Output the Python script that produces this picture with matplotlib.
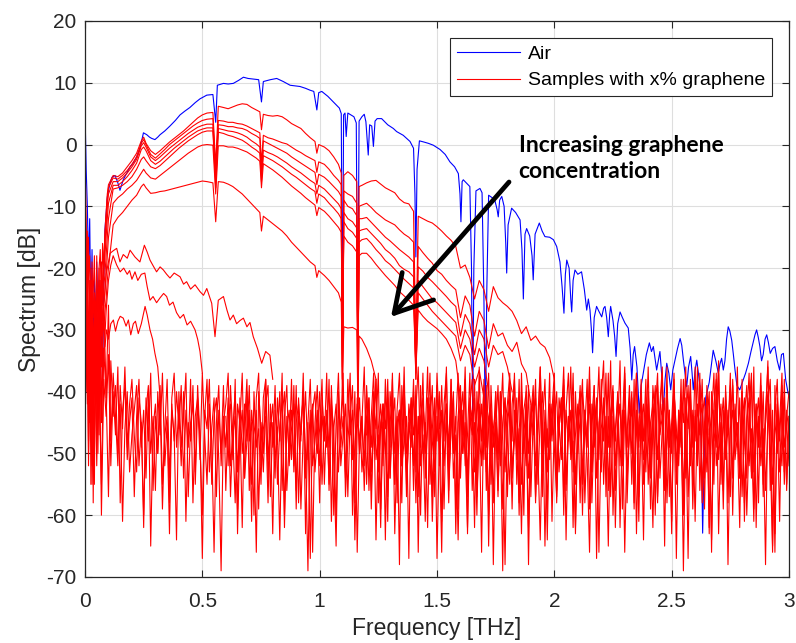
import numpy as np
import matplotlib.pyplot as plt

# ---------------------------------------------------------------------------
# Values (frequency in THz, spectrum in dB)
# ---------------------------------------------------------------------------

# Air reference spectrum: (frequency, dB)
AIR = [
    (0.000, 5.6), (0.005, -4), (0.010, -10), (0.015, -20), (0.020, -12), (0.025, -28),
    (0.030, -17), (0.035, -33), (0.040, -22), (0.045, -30), (0.050, -19), (0.055, -27),
    (0.060, -22), (0.065, -36), (0.070, -28), (0.075, -39), (0.080, -22), (0.085, -13.8),
    (0.095, -8.5), (0.105, -6.5), (0.115, -5.3), (0.128, -5.0), (0.140, -6.2), (0.149, -7.4),
    (0.163, -5.7), (0.178, -4.6), (0.192, -3.6), (0.205, -3.0), (0.220, -2.0), (0.235, -0.5),
    (0.249, 1.9), (0.263, 1.6), (0.275, 1.2), (0.284, 1.0), (0.298, 0.8), (0.310, 1.2),
    (0.320, 1.6), (0.340, 2.2), (0.362, 3.0), (0.385, 3.9), (0.405, 4.8), (0.425, 5.4),
    (0.447, 6.0), (0.470, 6.8), (0.490, 7.4), (0.519, 8.0), (0.545, 8.1), (0.557, 3.6),
    (0.564, 9.6), (0.590, 9.9), (0.610, 9.8), (0.632, 9.9), (0.655, 10.4), (0.675, 10.9),
    (0.695, 10.7), (0.717, 10.6), (0.740, 10.5), (0.752, 6.9), (0.760, 10.2), (0.790, 10.5),
    (0.817, 10.7), (0.845, 10.2), (0.874, 9.6), (0.895, 9.5), (0.916, 9.4), (0.940, 9.1),
    (0.959, 8.8), (0.975, 8.6), (0.988, 5.6), (0.996, 8.4), (1.009, 8.6), (1.035, 7.8),
    (1.058, 6.9), (1.084, 5.9), (1.092, 5.0), (1.097, -30), (1.102, 4.8), (1.108, 5.1),
    (1.113, 1.3), (1.120, 5.1), (1.146, 4.5), (1.156, 3.5), (1.162, -32), (1.168, 3.8),
    (1.180, 4.5), (1.190, 4.9), (1.197, 3.7), (1.207, -1.7), (1.213, 3.2), (1.222, 3.0),
    (1.229, -0.3), (1.236, 3.8), (1.245, 4.2), (1.264, 4.2), (1.290, 3.2), (1.314, 2.6),
    (1.328, 2.1), (1.356, 1.5), (1.385, 0.5), (1.400, -0.6), (1.406, -8), (1.410, -18.2),
    (1.415, -4), (1.425, 0.6), (1.445, 0.4), (1.463, 0.2), (1.484, -0.1), (1.513, -0.8),
    (1.535, -1.6), (1.555, -2.8), (1.575, -3.6), (1.591, -4.7), (1.598, -8), (1.602, -12.5),
    (1.607, -6.0), (1.612, -5.7), (1.625, -6.2), (1.640, -6.8), (1.647, -20), (1.652, -45),
    (1.657, -20), (1.666, -7.5), (1.683, -7.1), (1.692, -7.8), (1.700, -25), (1.706, -48),
    (1.712, -24), (1.720, -8.2), (1.735, -8.6), (1.747, -9.1), (1.756, -10.5), (1.761, -11.7),
    (1.767, -9.0), (1.776, -8.4), (1.786, -10.0), (1.793, -16), (1.797, -20.8), (1.803, -13.0),
    (1.818, -10.3), (1.835, -11.0), (1.854, -12.2), (1.862, -17), (1.868, -25), (1.875, -14.5),
    (1.882, -13.6), (1.895, -14.8), (1.905, -18), (1.910, -21.9), (1.918, -14.5), (1.936, -12.7),
    (1.948, -14.0), (1.960, -14.9), (1.980, -15.0), (1.996, -15.4), (2.010, -16.5), (2.024, -19.0),
    (2.033, -23), (2.041, -27.3), (2.047, -21), (2.053, -18.7), (2.063, -20), (2.070, -25),
    (2.074, -27.1), (2.080, -22), (2.088, -20.3), (2.100, -21.0), (2.116, -20.6), (2.128, -23.5),
    (2.138, -26.8), (2.145, -25.0), (2.152, -26.8), (2.158, -30), (2.163, -33.7), (2.170, -28),
    (2.180, -26.2), (2.190, -27.0), (2.202, -27.9), (2.210, -26.5), (2.216, -26.2), (2.223, -28),
    (2.230, -31.1), (2.236, -27.5), (2.240, -26.2), (2.250, -28.5), (2.257, -31), (2.263, -34.3),
    (2.270, -29), (2.280, -27.1), (2.290, -28.0), (2.301, -28.9), (2.315, -29.7), (2.323, -33),
    (2.330, -38.1), (2.336, -34), (2.342, -32.7), (2.352, -36), (2.362, -43.5), (2.370, -39),
    (2.379, -37.0), (2.392, -34), (2.405, -32.1), (2.414, -33.5), (2.422, -32.7), (2.436, -36.5),
    (2.450, -33.5), (2.457, -37), (2.464, -43.5), (2.472, -38), (2.479, -35.4), (2.488, -37),
    (2.496, -39.7), (2.505, -36.5), (2.514, -34.9), (2.525, -33.0), (2.536, -31.4), (2.543, -32.5),
    (2.550, -34.9), (2.557, -37), (2.564, -39.2), (2.572, -36), (2.581, -34.3), (2.587, -37),
    (2.592, -39.7), (2.600, -36.5), (2.607, -34.9), (2.614, -37), (2.621, -39.2), (2.627, -50),
    (2.632, -62.9), (2.638, -52), (2.645, -41), (2.660, -38.5), (2.677, -33.3), (2.688, -35),
    (2.699, -37.0), (2.706, -35.5), (2.713, -34.6), (2.720, -36.5), (2.727, -35.0), (2.734, -31.5),
    (2.741, -29.5), (2.748, -30.2), (2.756, -31.7), (2.763, -34), (2.770, -36.5), (2.778, -39.0),
    (2.790, -39.7), (2.805, -38.1), (2.815, -37), (2.827, -35.4), (2.838, -33.5), (2.848, -31.9),
    (2.855, -30.8), (2.862, -30.0), (2.869, -31.2), (2.876, -32.7), (2.883, -35), (2.890, -34),
    (2.898, -31.5), (2.905, -30.8), (2.912, -32), (2.920, -33.8), (2.930, -33.0), (2.940, -32.7),
    (2.950, -35), (2.960, -36.5), (2.968, -34), (2.976, -33.8), (2.986, -38.1), (2.995, -40.0),
    (3.000, -40.8),
]

# common frequency grid of the seven upper sample curves (absorption lines included)
F_UP = [
    0.000, 0.005, 0.010, 0.015, 0.020, 0.025, 0.030, 0.035, 0.040, 0.045,
    0.050, 0.055, 0.060, 0.065, 0.070, 0.075, 0.080, 0.085, 0.090, 0.095, 0.100,
    0.12, 0.14, 0.16, 0.18, 0.20, 0.22, 0.24, 0.25, 0.26, 0.28, 0.30, 0.32,
    0.34, 0.36, 0.38, 0.40, 0.42, 0.44, 0.46, 0.48, 0.50, 0.52, 0.545,
    0.557, 0.568,
    0.59, 0.61, 0.63, 0.65, 0.67, 0.69, 0.71, 0.73, 0.745,
    0.752, 0.76,
    0.78, 0.80, 0.82, 0.84, 0.86, 0.88, 0.90, 0.92, 0.94, 0.96, 0.98,
    0.988, 0.996,
    1.02, 1.04, 1.06, 1.08, 1.092,
    1.097, 1.103,
    1.12, 1.14, 1.158,
    1.163, 1.168,
    1.18, 1.20, 1.22, 1.24, 1.26, 1.28, 1.30, 1.32, 1.34, 1.36, 1.38, 1.40,
    1.41, 1.42,
    1.44, 1.46, 1.48, 1.50, 1.52, 1.54, 1.56, 1.58, 1.60, 1.62, 1.64, 1.66, 1.68, 1.70,
    1.72, 1.74, 1.76, 1.78, 1.80, 1.82, 1.84, 1.86, 1.88, 1.90, 1.92, 1.94, 1.96, 1.98, 2.00,
]

R1 = [
    -2, -12, -25, -15, -32, -20, -38, -24, -18, -30, -22, -27, -20, -17, -26, -16, -21, -14, -11, -8, -6.5,
    -5.0, -5.2, -4.6, -3.6, -2.6, -1.4, 0.6, 1.2, 0.2, -1.0, -1.6, -1.0, -0.3, 0.4, 1.0, 1.6, 2.2, 2.9, 3.6, 4.3, 4.8, 5.1, 5.2,
    -3.5, 6.2,
    6.0, 5.8, 6.1, 6.4, 6.6, 6.5, 6.0, 5.6, 5.3,
    2.4, 4.9,
    4.7, 4.6, 4.7, 4.5, 4.0, 3.4, 3.0, 2.6, 1.8, 1.1, 0.5,
    -1.4, 0.0,
    -0.4, -1.0, -2.0, -3.2, -4.6,
    -42, -5.0,
    -4.4, -5.0, -6.0,
    -45, -6.8,
    -6.6, -6.2, -5.9, -5.8, -6.4, -7.0, -7.4, -7.8, -8.8, -9.4, -9.6, -10.8,
    -33, -11.6,
    -12.0, -12.4, -12.7, -13.3, -14.0, -14.8, -15.5, -16.5, -20, -19.5, -21.5, -25, -22.0, -23.5,
    -27, -23.0, -24.8, -25.6, -26.2, -27.0, -28.5, -30.6, -29.5, -31.7, -31.0, -32.2, -32.8, -34.5, -38,
]
R2 = [
    -8, -20, -14, -35, -22, -45, -19, -28, -24, -36, -18, -30, -23, -35, -19, -26, -18, -15, -12, -9, -7,
    -5.4, -5.6, -5.0, -4.2, -3.2, -2.0, 0.2, 0.8, 0.0, -1.6, -2.2, -1.5, -0.8, 0.0, 0.6, 1.2, 1.8, 2.4, 3.0, 3.5, 3.9, 4.1, 4.2,
    -4.0, 3.9,
    3.8, 3.6, 3.6, 3.4, 3.3, 3.0, 2.6, 2.2, 1.9,
    -3.0, 1.5,
    1.1, 0.9, 0.6, 0.3, 0.1, -0.4, -0.9, -1.3, -1.8, -2.2, -2.6,
    -4.5, -2.8,
    -3.2, -4.0, -5.0, -5.8, -6.5,
    -40, -7.5,
    -8.0, -8.4, -9.5,
    -44, -10.0,
    -9.8, -9.5, -10.2, -11.0, -11.6, -12.2, -12.6, -13.0, -13.8, -14.5, -15.0, -15.8,
    -35, -16.5,
    -17.5, -18.4, -19.2, -20.4, -21.0, -22.0, -22.8, -23.5, -28, -24.5, -26.0, -31, -27.0, -28.5,
    -33, -29.0, -31.0, -30.5, -32.5, -33.5, -32.0, -35.5, -37, -42, None, None, None, None, None,
]
R3 = [
    -12, -25, -18, -40, -26, -55, -22, -33, -28, -42, -24, -36, -20, -30, -27, -22, -19, -16, -13, -10, -8,
    -6.0, -6.0, -5.4, -4.6, -3.6, -2.4, -0.2, 0.3, -0.4, -2.0, -2.6, -2.0, -1.3, -0.6, 0.0, 0.6, 1.2, 1.8, 2.3, 2.8, 3.1, 3.3, 3.3,
    -5.0, 3.2,
    3.1, 2.9, 2.9, 2.7, 2.6, 2.3, 1.8, 1.4, 1.0,
    -4.5, 0.6,
    0.2, -0.2, -0.6, -1.0, -1.4, -2.0, -2.5, -3.0, -3.5, -4.0, -4.5,
    -6.5, -4.8,
    -5.3, -6.0, -6.8, -7.6, -8.4,
    -38, -9.0,
    -10.0, -10.4, -11.5,
    -40, -12.0,
    -12.0, -11.8, -12.6, -13.4, -14.2, -15.0, -15.6, -16.3, -17.0, -17.6, -18.2, -19.0,
    -37, -19.8,
    -20.5, -21.5, -22.2, -23.0, -23.8, -24.6, -25.5, -26.2, -31, -27.5, -29.0, -34, -30.0, -31.5,
    -36, -32.5, -34.0, -33.5, -36.0, -40, None, None, None, None, None, None, None, None, None,
]
R4 = [
    -15, -28, -21, -44, -30, -38, -25, -50, -31, -27, -40, -26, -34, -22, -29, -24, -20, -18, -15, -12, -9.5,
    -6.6, -6.6, -6.0, -5.2, -4.2, -3.0, -0.8, -0.4, -1.0, -2.6, -3.2, -2.7, -2.0, -1.3, -0.6, 0.0, 0.6, 1.2, 1.7, 2.2, 2.5, 2.7, 2.7,
    -6.0, 2.6,
    2.4, 2.2, 2.1, 1.9, 1.6, 1.2, 0.6, 0.1, -0.4,
    -5.0, -0.9,
    -1.3, -1.6, -2.0, -2.5, -3.0, -3.6, -4.1, -4.6, -5.2, -5.8, -6.3,
    -8.0, -6.6,
    -7.2, -8.0, -8.8, -9.6, -10.4,
    -36, -11.0,
    -12.0, -12.5, -13.5,
    -38, -14.0,
    -13.8, -13.6, -14.4, -15.2, -16.0, -17.0, -17.6, -18.4, -19.6, -20.2, -20.6, -21.4,
    -38, -22.0,
    -23.0, -24.0, -25.0, -25.6, -26.4, -27.2, -28.0, -28.8, -33, -30.0, -31.5, -36, -33.0, -35.0,
    -40, None, None, None, None, None, None, None, None, None, None, None, None, None, None,
]
R5 = [
    -18, -32, -24, -48, -35, -28, -52, -30, -38, -26, -44, -29, -36, -25, -31, -27, -23, -21, -18, -15, -12,
    -7.2, -7.0, -6.6, -6.0, -5.2, -4.0, -2.4, -2.0, -2.6, -3.6, -3.9, -3.4, -2.7, -2.0, -1.3, -0.6, 0.0, 0.6, 1.1, 1.6, 2.0, 2.2, 2.2,
    -7.0, 2.0,
    1.8, 1.5, 1.3, 1.0, 0.7, 0.2, -0.4, -0.9, -1.4,
    -6.0, -1.8,
    -2.2, -2.6, -3.1, -3.6, -4.2, -4.8, -5.3, -5.9, -6.5, -7.1, -7.6,
    -9.5, -8.0,
    -8.6, -9.5, -10.3, -11.2, -12.0,
    -34, -12.5,
    -13.6, -14.2, -15.2,
    -36, -15.8,
    -15.4, -15.2, -16.0, -17.0, -17.8, -18.8, -19.4, -20.2, -21.0, -21.8, -22.5, -23.2,
    -38, -24.0,
    -25.0, -26.0, -27.0, -27.8, -28.6, -29.4, -30.2, -31.0, -35, -32.5, -34.0, -39, -36.5, -41,
    None, None, None, None, None, None, None, None, None, None, None, None, None, None, None,
]
R6 = [
    -20, -35, -27, -50, -38, -31, -45, -33, -55, -29, -40, -33, -47, -28, -36, -30, -26, -24, -21, -18, -15,
    -9.5, -8.6, -8.0, -7.2, -6.6, -5.8, -4.6, -4.0, -4.6, -5.4, -5.6, -5.0, -4.4, -3.8, -3.2, -2.6, -2.0, -1.4, -0.9, -0.4, -0.1, 0.0, -0.1,
    -8.0, -0.2,
    -0.2, -0.4, -0.4, -0.6, -0.9, -1.2, -1.7, -2.2, -2.7,
    -7.0, -3.1,
    -3.6, -4.1, -4.7, -5.3, -6.0, -6.7, -7.3, -7.9, -8.6, -9.2, -9.8,
    -11.5, -10.2,
    -10.8, -11.6, -12.5, -13.4, -14.2,
    -33, -14.8,
    -15.8, -16.4, -17.4,
    -35, -18.0,
    -17.6, -17.6, -18.4, -19.4, -20.3, -21.2, -22.0, -22.8, -23.8, -24.5, -25.2, -26.0,
    -36, -26.8,
    -27.8, -28.6, -29.2, -29.8, -30.6, -31.5, -33.0, -35, -41, None, None, None, None, None,
    None, None, None, None, None, None, None, None, None, None, None, None, None, None, None,
]
R7 = [
    -22, -40, -30, -52, -36, -44, -28, -58, -35, -42, -31, -50, -37, -33, -45, -29, -30, -27, -25, -22, -20,
    -13.0, -11.8, -11.0, -10.0, -9.0, -8.2, -6.8, -6.4, -7.0, -7.9, -7.8, -7.6, -7.5, -7.3, -7.1, -6.9, -6.7, -6.5, -6.3, -6.1, -5.9, -6.0, -6.2,
    -12.5, -6.0,
    -6.1, -6.4, -6.8, -7.4, -8.0, -8.8, -9.6, -10.4, -11.0,
    -14.0, -11.6,
    -12.2, -12.8, -13.4, -14.0, -14.8, -15.8, -16.6, -17.4, -18.2, -19.0, -19.6,
    -21.5, -20.4,
    -21.2, -22.0, -23.0, -24.0, -25.5,
    -38, -29.5,
    -29.7, -29.6, -30.0,
    -42, -31.0,
    -31.5, -33.0, -35.0, -38, None, None, None, None, None, None, None, None,
    None, None,
    None, None, None, None, None, None, None, None, None, None, None, None, None, None,
    None, None, None, None, None, None, None, None, None, None, None, None, None, None, None,
]
SAMPLES = [R1, R2, R3, R4, R5, R6, R7]

# the two weak sample curves at the low-frequency end
L1_F = [0.06, 0.07, 0.08, 0.09, 0.10, 0.107, 0.12, 0.135, 0.149, 0.163, 0.18, 0.192, 0.213, 0.234,
        0.253, 0.265, 0.277, 0.29, 0.305, 0.32, 0.334, 0.348, 0.362, 0.38, 0.405, 0.42, 0.433, 0.45,
        0.469, 0.49, 0.505, 0.519, 0.54, 0.554, 0.568, 0.59, 0.605, 0.618, 0.632, 0.646, 0.66, 0.675,
        0.69, 0.703, 0.717, 0.735, 0.753, 0.77, 0.788, 0.80]
L1_DB = [-40, -30, -26, -21, -19, -17.6, -17.2, -16.8, -19.0, -17.8, -18.4, -17.1, -18.2, -19.0,
         -16.3, -17.4, -18.7, -19.6, -20.6, -19.8, -20.3, -21.0, -21.6, -20.8, -21.4, -22.6, -22.2, -23.4,
         -22.7, -23.8, -24.4, -23.3, -25.7, -31.1, -25.2, -24.6, -26.8, -28.4, -27.6, -29.0, -28.5, -28.1,
         -29.5, -28.8, -31.1, -33.0, -35.4, -33.5, -34.1, -38]
L1B_F = [0.08, 0.09, 0.10, 0.11, 0.12, 0.135, 0.15, 0.165, 0.18, 0.19, 0.2, 0.213, 0.225, 0.24,
         0.255, 0.265, 0.277, 0.29, 0.305, 0.32, 0.335, 0.348, 0.36, 0.375, 0.39, 0.405, 0.42, 0.435,
         0.45, 0.469, 0.48, 0.49, 0.50]
L1B_DB = [-35, -27, -22, -19.5, -18.0, -19.5, -20.6, -20.0, -21.0, -20.4, -21.8, -20.6, -22.0, -21.0,
          -20.8, -23.0, -25.2, -24.6, -25.6, -24.8, -24.1, -24.6, -26.0, -25.5, -27.2, -28.1, -27.5, -29.2,
          -28.6, -30.0, -31.5, -33.5, -37]
L2_F = [0.07, 0.08, 0.085, 0.092, 0.10, 0.11, 0.121, 0.13, 0.14, 0.15, 0.163, 0.175, 0.185, 0.195,
        0.206, 0.215, 0.227, 0.24, 0.256, 0.265, 0.277, 0.288, 0.298, 0.31, 0.32]
L2_DB = [-42, -33, -32.7, -30.0, -31.5, -29.0, -28.4, -30.2, -28.6, -27.8, -28.1, -29.4, -28.4, -30.8,
         -29.0, -28.6, -30.6, -29.0, -26.2, -27.6, -30.0, -31.5, -33.8, -36, -41]

# noise-floor traces, one value every 0.01 THz from the given start frequency
NOISE_STEP = 0.01
N1_START = 0.0
N1 = [
    -12, -30, -45, -22, -50, -28, -38, -55, -33, -41, -26, -48, -37, -44, -52, -39, -46, -36, -49, -42,
    -38, -47, -53, -41, -45, -60, -43, -39, -50, -44, -56, -40, -47, -37, -52, -45, -63, -42, -48, -40,
    -46, -39, -54, -43, -49, -38, -58, -44, -41, -51, -37, -47, -55, -42, -48, -66, -45, -39, -52, -44,
    -49, -41, -57, -46, -40, -53, -44, -62, -42, -48, -39, -55, -47, -43, -59, -45, -50, -38, -54, -46,
    -42, -51, -47, -64, -44, -40, -56, -48, -43, -52, -39, -58, -45, -41, -50, -69, -46, -42, -53, -47,
    -40, -55, -44, -49, -38, -61, -46, -42, -53, -45, -37, -57, -48, -43, -51, -40, -66, -47, -44, -52,
    -39, -48, -56, -42, -46, -37, -59, -45, -50, -41, -54, -38, -63, -47, -43, -52, -40, -57, -45, -49,
    -38, -53, -44, -60, -42, -47, -36, -55, -46, -41, -67, -48, -39, -52, -44, -58, -40, -50, -45, -37,
    -54, -43, -49, -62, -41, -46, -38, -57, -47, -42, -51, -39, -65, -44, -48, -40, -56, -45, -37, -53,
    -46, -41, -59, -43, -50, -38, -55, -47, -42, -68, -44, -39, -52, -46, -40, -57, -43, -49, -37, -61,
    -45, -40, -53, -47, -38, -56, -44, -50, -41, -63, -46, -39, -54, -43, -48, -36, -58, -45, -42, -51,
    -38, -55, -44, -49, -35, -60, -46, -41, -52, -43, -66, -47, -39, -50, -44, -37, -57, -45, -42, -53,
    -40, -48, -62, -43, -37, -54, -46, -41, -58, -44, -50, -38, -55, -47, -42, -69, -45, -39, -52, -43,
    -48, -36, -56, -44, -41, -53, -46, -64, -42, -38, -51, -45, -59, -40, -47, -37, -54, -43, -49, -41,
    -57, -44, -39, -52, -46, -61, -42, -48, -37, -55, -45, -40, -50, -66, -43, -38, -53, -47, -41, -56,
    -44,
]
N2_START = 0.0
N2 = [
    -20, -42, -25, -55, -35, -47, -30, -60, -38, -44, -34, -52, -40, -47, -36, -58, -43, -39, -51, -45,
    -41, -57, -44, -38, -49, -43, -54, -40, -65, -46, -42, -50, -39, -55, -47, -44, -58, -41, -37, -49,
    -43, -52, -40, -61, -45, -48, -39, -55, -42, -47, -67, -44, -38, -53, -46, -41, -57, -43, -50, -39,
    -56, -44, -42, -51, -38, -63, -47, -43, -54, -40, -48, -45, -60, -41, -37, -52, -46, -44, -58, -42,
    -49, -39, -55, -46, -41, -62, -44, -50, -38, -53, -45, -42, -59, -47, -40, -51, -43, -66, -45, -39,
    -52, -44, -48, -37, -56, -42, -46, -61, -40, -49, -44, -54, -38, -47, -43, -58, -41, -50, -45, -36,
    -55, -43, -49, -40, -64, -46, -42, -52, -38, -57, -45, -41, -50, -44, -68, -39, -47, -53, -42, -46,
    -40, -58, -44, -49, -37, -54, -45, -42, -61, -47, -39, -52, -43, -48, -36, -56, -46, -41, -63, -44,
    -39, -50, -45, -57, -42, -38, -53, -47, -44, -66, -41, -49, -37, -55, -46, -43, -51, -40, -59, -45,
    -42, -37, -54, -48, -43, -60, -40, -46, -52, -39, -57, -44, -41, -50, -64, -45, -38, -53, -47, -42,
    -49, -57, -41, -45, -36, -55, -47, -43, -62, -40, -50, -44, -38, -58, -46, -42, -53, -39, -67, -45,
    -41, -48, -37, -56, -44, -40, -52, -46, -35, -59, -43, -49, -41, -55, -38, -63, -45, -42, -51, -47,
    -36, -54, -44, -40, -57, -46, -42, -65, -39, -49, -45, -37, -53, -43, -48, -60, -41, -46, -38, -55,
    -43, -50, -39, -58, -45, -41, -62, -44, -37, -52, -47, -42, -56, -39, -68, -46, -43, -50, -36, -54,
    -45, -41, -60, -47, -38, -53, -44, -49, -40, -57, -43, -36, -51, -46, -63, -42, -48, -39, -55, -44,
    -40,
]
N3_START = 0.0
N3 = [
    -8, -25, -18, -38, -27, -52, -32, -45, -26, -40, -57, -35, -44, -39, -50, -42, -61, -46, -40, -53,
    -47, -43, -39, -52, -45, -62, -41, -48, -37, -56, -44, -50, -42, -59, -46, -38, -54, -43, -47, -64,
    -40, -49, -44, -37, -57, -45, -42, -53, -39, -48, -60, -43, -46, -38, -55, -44, -41, -51, -69, -45,
    -42, -37, -52, -47, -44, -59, -41, -50, -45, -38, -56, -43, -48, -66, -40, -46, -53, -42, -39, -57,
    -45, -54, -41, -48, -37, -60, -46, -43, -51, -39, -56, -44, -47, -40, -63, -45, -38, -52, -48, -43,
    -58, -41, -47, -44, -55, -39, -51, -65, -43, -46, -40, -53, -45, -37, -60, -48, -42, -50, -44, -56,
    -44, -41, -53, -47, -38, -58, -45, -42, -49, -61, -40, -46, -55, -43, -37, -52, -48, -44, -67, -41,
    -47, -43, -57, -39, -50, -45, -62, -41, -48, -53, -37, -46, -44, -59, -42, -49, -38, -54, -47, -64,
    -44, -40, -52, -47, -37, -56, -45, -60, -42, -48, -39, -53, -46, -43, -58, -40, -50, -45, -69, -41,
    -48, -55, -42, -38, -51, -46, -63, -43, -40, -54, -47, -41, -57, -44, -36, -50, -45, -59, -42, -47,
    -40, -58, -45, -51, -39, -64, -44, -48, -37, -55, -46, -42, -60, -43, -49, -38, -53, -47, -41, -66,
    -46, -42, -50, -37, -57, -44, -48, -40, -62, -45, -36, -53, -47, -41, -58, -43, -49, -38, -55, -45,
    -42, -59, -46, -39, -51, -44, -37, -56, -48, -43, -63, -40, -47, -52, -41, -45, -36, -57, -49, -44,
    -61, -42, -47, -38, -54, -45, -40, -66, -43, -49, -37, -53, -46, -42, -58, -44, -39, -51, -47, -62,
    -40, -48, -54, -43, -37, -59, -45, -41, -52, -46, -68, -42, -38, -55, -47, -43, -61, -40, -49, -45,
    -52,
]
N4_START = 0.6
N4 = [
    -44, -52, -39, -47, -58, -42, -45, -37, -54, -48, -43, -61, -40, -49, -46, -55, -41, -38, -51, -45,
    -63, -43, -47, -40, -56, -44, -39, -52, -46, -42, -59, -41, -48, -37, -54, -45, -67, -43, -40, -50,
    -46, -38, -55, -43, -49, -41, -60, -45, -37, -52, -47, -42, -57, -44, -39, -64, -46, -41, -53, -48,
    -40, -56, -44, -37, -51, -47, -62, -42, -46, -38, -54, -45, -41, -58, -43, -49, -36, -55, -47, -42,
    -52, -39, -66, -44, -41, -50, -46, -37, -57, -43, -48, -40, -61, -45, -42, -53, -38, -49, -44, -59,
    -41, -47, -36, -54, -45, -43, -62, -40, -48, -51, -38, -56, -44, -42, -68, -46, -39, -52, -45, -41,
    -57, -43, -48, -37, -55, -46, -42, -60, -39, -50, -44, -41, -58, -47, -36, -53, -45, -64, -42, -48,
    -39, -54, -46, -41, -57, -43, -37, -51, -48, -62, -44, -40, -55, -46, -38, -59, -42, -49, -45, -36,
    -53, -41, -47, -65, -43, -39, -56, -45, -42, -50, -37, -58, -46, -40, -54, -44, -61, -41, -48, -38,
    -55, -45, -42, -60, -39, -47, -44, -52, -36, -57, -46, -41, -67, -43, -49, -38, -54, -45, -40, -59,
    -44, -50, -37, -56, -47, -42, -63, -40, -48, -45, -35, -55, -43, -51, -46, -39, -60, -42, -47, -53,
    -38, -58, -45, -41, -54, -36, -62, -44, -49, -40, -56, -46, -42, -65, -39, -50, -45, -37, -53, -43,
    -47,
]
N5_START = 1.2
N5 = [
    -47, -41, -59, -44, -38, -53, -46, -42, -64, -40, -49, -37, -55, -45, -43, -58, -39, -50, -46, -41,
    -56, -43, -36, -52, -47, -61, -41, -45, -39, -57, -44, -48, -66, -42, -37, -54, -46, -40, -59, -45,
    -42, -50, -38, -63, -44, -47, -41, -55, -36, -52, -46, -43, -60, -39, -49, -45, -57, -40, -48, -68,
    -44, -39, -53, -46, -41, -58, -37, -50, -45, -62, -42, -47, -38, -55, -44, -40, -65, -46, -51, -43,
    -37, -56, -45, -41, -60, -43, -48, -36, -53, -47, -42, -58, -40, -45, -51, -66, -44, -39, -54, -46,
    -41, -35, -57, -44, -49, -40, -62, -46, -42, -52, -38, -55, -45, -43, -59, -37, -48, -44, -64, -41,
    -47, -53, -39, -45, -58, -42, -36, -55, -48, -43, -61, -40, -46, -50, -38, -57, -44, -67, -41, -49,
    -36, -52, -45, -42, -59, -39, -47, -44, -55, -37, -63, -46, -41, -50, -43, -57, -38, -48, -45, -54,
    -40, -61, -44, -37, -53, -47, -42, -58, -39, -49, -45, -35, -56, -43, -66, -41, -47, -52, -38, -55,
    -44,
]
NOISE = [(N1_START, N1), (N2_START, N2), (N3_START, N3), (N4_START, N4), (N5_START, N5)]

XTICKS = [0, 0.5, 1, 1.5, 2, 2.5, 3]
XTICK_LABELS = ['0', '0.5', '1', '1.5', '2', '2.5', '3']
YTICKS = [-70, -60, -50, -40, -30, -20, -10, 0, 10, 20]

# ---------------------------------------------------------------------------
plt.rcParams['font.family'] = ['Liberation Sans', 'DejaVu Sans']
plt.rcParams['axes.unicode_minus'] = False
INK = '#262626'
RED = '#ff0000'
BLUE = '#0000ff'
LW = 0.8

fig = plt.figure(figsize=(7.96, 6.43), dpi=100)
ax = fig.add_axes([85 / 796, 66 / 643, 704 / 796, 556 / 643])

air_f, air_db = zip(*AIR)
h_air, = ax.plot(air_f, air_db, color=BLUE, lw=LW, label='Air')

h_red = None
for vals in SAMPLES:
    line, = ax.plot(F_UP, np.array(vals, dtype=float), color=RED, lw=LW)
    h_red = h_red or line
for f, db in [(L1_F, L1_DB), (L1B_F, L1B_DB), (L2_F, L2_DB)]:
    ax.plot(f, db, color=RED, lw=LW)
for start, vals in NOISE:
    freq = start + NOISE_STEP * np.arange(len(vals))
    ax.plot(freq, vals, color=RED, lw=LW)
h_red.set_label('Samples with x% graphene')

ax.set_xlim(0, 3)
ax.set_ylim(-70, 20)
ax.set_xticks(XTICKS)
ax.set_xticklabels(XTICK_LABELS)
ax.set_yticks(YTICKS)
ax.grid(True, color='#dedede', lw=0.8)
ax.set_axisbelow(True)
for s in ax.spines.values():
    s.set_color(INK)
    s.set_linewidth(0.9)
ax.tick_params(direction='in', top=True, right=True, length=5, width=0.8,
               labelsize=15, color=INK, labelcolor=INK)
ax.tick_params(axis='x', pad=11)
ax.tick_params(axis='y', pad=6)
ax.set_xlabel('Frequency [THz]', fontsize=16.5, color=INK, labelpad=4)
ax.set_ylabel('Spectrum [dB]', fontsize=16.5, color=INK, labelpad=4)

leg = ax.legend(handles=[h_air, h_red], loc='upper right', fontsize=14,
                fancybox=False, framealpha=1, edgecolor=INK, borderaxespad=0.88,
                handlelength=3.25, handletextpad=0.4, borderpad=0.35, labelspacing=0.48)
leg.get_frame().set_linewidth(0.8)

ax.annotate('', xy=(1.304, -27.9), xytext=(1.807, -6.06),
            arrowprops=dict(arrowstyle='->,head_length=2.6,head_width=1.5',
                            lw=3.4, color='black', shrinkA=0, shrinkB=0,
                            mutation_scale=10))
ax.text(1.848, -2.2, 'Increasing graphene\nconcentration', fontsize=16.5,
        fontweight='bold', family=['Lato', 'DejaVu Sans'], ha='left', va='center',
        linespacing=1.3, color='black')

fig.savefig('out.png', dpi=100)
